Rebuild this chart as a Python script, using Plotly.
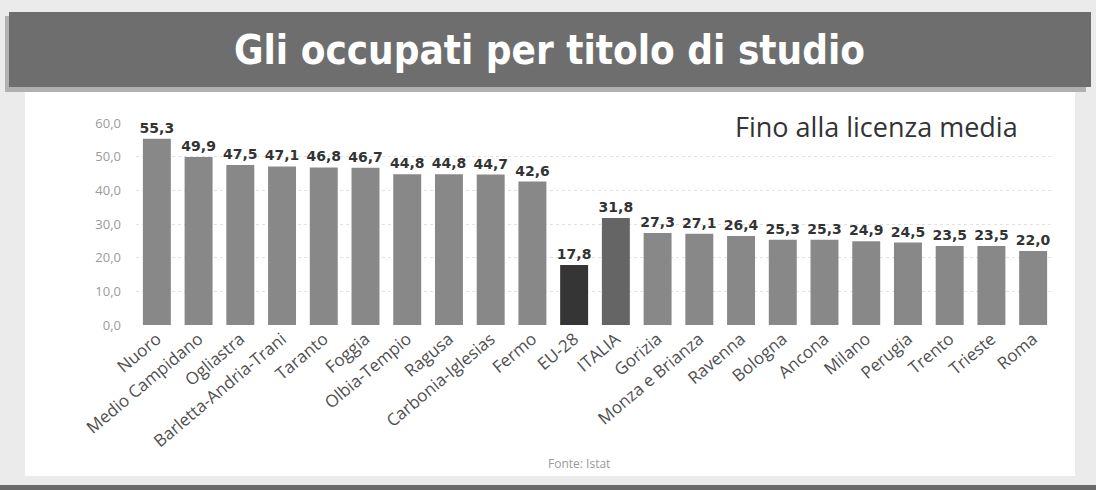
import plotly.graph_objects as go

categories = ["Nuoro", "Medio Campidano", "Ogliastra", "Barletta-Andria-Trani", "Taranto",
              "Foggia", "Olbia-Tempio", "Ragusa", "Carbonia-Iglesias", "Fermo", "EU-28",
              "ITALIA", "Gorizia", "Monza e Brianza", "Ravenna", "Bologna", "Ancona",
              "Milano", "Perugia", "Trento", "Trieste", "Roma"]
values = [55.3, 49.9, 47.5, 47.1, 46.8, 46.7, 44.8, 44.8, 44.7, 42.6, 17.8,
          31.8, 27.3, 27.1, 26.4, 25.3, 25.3, 24.9, 24.5, 23.5, 23.5, 22.0]
y_ticks = [0, 10, 20, 30, 40, 50, 60]

bar_colors = []
for c in categories:
    if c == "EU-28":
        bar_colors.append("#353535")
    elif c == "ITALIA":
        bar_colors.append("#656565")
    else:
        bar_colors.append("#888888")

W, H = 1096, 490
L, R, T, B = 136, 42, 123, 165
pw = W - L - R
ph = H - T - B

def px(x):
    return (x - L) / pw

def py(y):
    return (H - B - y) / ph

fig = go.Figure(go.Bar(
    x=categories, y=values,
    marker=dict(color=bar_colors, line=dict(width=0)),
    text=values, texttemplate="<b>%{y:.1f}</b>", textposition="outside",
    constraintext="none",
    textfont=dict(family="DejaVu Sans", size=14, color="#333333"),
    cliponaxis=False,
))

shapes = [
    dict(type="rect", xref="paper", yref="paper", x0=px(25), x1=px(1075), y0=py(476), y1=py(86),
         fillcolor="white", line=dict(width=0), layer="below"),
    dict(type="rect", xref="paper", yref="paper", x0=px(0), x1=px(1096), y0=py(490), y1=py(485),
         fillcolor="#6a6a6a", line=dict(width=0), layer="below"),
    dict(type="rect", xref="paper", yref="paper", x0=px(5), x1=px(1086), y0=py(92), y1=py(16),
         fillcolor="#b0b0b0", line=dict(width=0), layer="below"),
    dict(type="rect", xref="paper", yref="paper", x0=px(9), x1=px(1091), y0=py(87), y1=py(12),
         fillcolor="#6e6e6e", line=dict(width=0), layer="below"),
]

annotations = [
    dict(text="<b>Gli occupati per titolo di studio</b>", xref="paper", yref="paper",
         x=px(549), y=py(50), xanchor="center", yanchor="middle", showarrow=False,
         font=dict(family="DejaVu Sans Condensed, Liberation Sans, sans-serif", size=40, color="white")),
    dict(text="Fino alla licenza media", xref="paper", yref="paper",
         x=px(876), y=py(126), xanchor="center", yanchor="middle", showarrow=False,
         font=dict(family="Open Sans", size=27, color="#333333")),
    dict(text="Fonte: Istat", xref="paper", yref="paper",
         x=px(579), y=py(463), xanchor="center", yanchor="middle", showarrow=False,
         font=dict(family="Open Sans", size=12, color="#9a9a9a")),
]

fig.update_layout(
    width=W, height=H,
    margin=dict(l=L, r=R, t=T, b=B, autoexpand=False),
    paper_bgcolor="#ebebeb",
    plot_bgcolor="rgba(0,0,0,0)",
    separators=",.",
    bargap=0.33,
    showlegend=False,
    shapes=shapes,
    annotations=annotations,
    xaxis=dict(tickangle=-40, showgrid=False, showline=False, ticks="",
               tickfont=dict(family="Open Sans", size=17, color="#505050")),
    yaxis=dict(range=[0, 60], tickvals=y_ticks, tickformat=".1f",
               showgrid=True, gridcolor="#e2e2e2", griddash="dot", gridwidth=1,
               zeroline=False, showline=False, ticks="", ticklabelstandoff=14,
               tickfont=dict(family="Open Sans", size=13, color="#9a9a9a")),
)

fig.write_html("out.html")
